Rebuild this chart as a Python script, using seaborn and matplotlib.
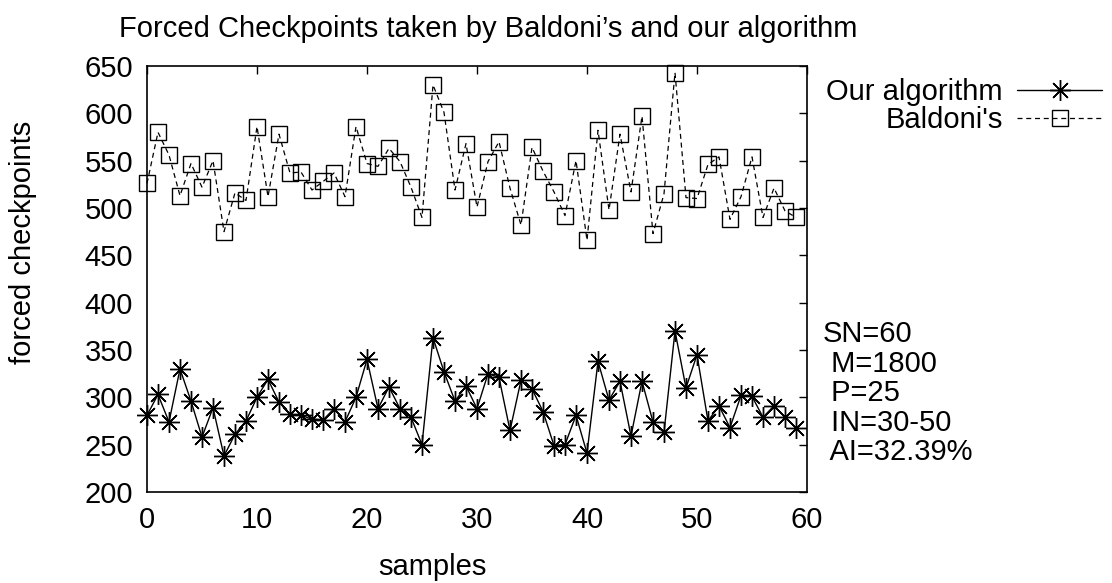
import numpy as np
import pandas as pd
import matplotlib
matplotlib.use("Agg")
import matplotlib.pyplot as plt
import seaborn as sns

samples = list(range(60))
our_algorithm = [281, 303, 274, 330, 296, 258, 289, 238, 261, 275,
                 300, 319, 295, 282, 281, 277, 276, 288, 274, 300,
                 340, 288, 311, 288, 279, 250, 363, 327, 296, 312,
                 288, 325, 321, 265, 318, 309, 285, 249, 250, 281,
                 241, 338, 297, 317, 259, 317, 274, 263, 370, 310,
                 345, 275, 291, 268, 302, 301, 279, 291, 279, 268]
baldoni = [526, 580, 556, 513, 547, 522, 550, 475, 516, 508,
           586, 512, 578, 537, 538, 519, 528, 537, 512, 586,
           547, 544, 563, 549, 522, 490, 630, 601, 519, 568,
           501, 549, 570, 521, 482, 564, 539, 517, 492, 550,
           466, 582, 498, 578, 517, 597, 473, 515, 643, 511,
           510, 546, 554, 488, 512, 554, 490, 521, 497, 490]
xticks = [0, 10, 20, 30, 40, 50, 60]
yticks = [200, 250, 300, 350, 400, 450, 500, 550, 600, 650]
params_text = "SN=60\n M=1800\n P=25\n IN=30-50\n AI=32.39%"

df_our = pd.DataFrame({"samples": samples, "value": our_algorithm})
df_bal = pd.DataFrame({"samples": samples, "value": baldoni})

sns.set_theme(style="white")
plt.rcParams['font.family'] = ['Liberation Sans', 'DejaVu Sans']
plt.rcParams['text.color'] = 'black'
plt.rcParams['axes.labelcolor'] = 'black'
plt.rcParams['xtick.color'] = 'black'
plt.rcParams['ytick.color'] = 'black'
FS = 21
plt.rcParams['font.size'] = FS

W, H = 1112, 583
fig = plt.figure(figsize=(W/100, H/100), dpi=100)
ax = fig.add_axes([147/W, 1-492/H, (807-147)/W, (492-66)/H])

ast = (8, 2, 0)
sns.lineplot(data=df_our, x="samples", y="value", ax=ax, color="black",
             linewidth=1.0, marker=ast, markersize=15, markeredgewidth=1.0,
             markeredgecolor="black", label="Our algorithm", clip_on=False)
sns.lineplot(data=df_bal, x="samples", y="value", ax=ax, color="black",
             linewidth=0.9, linestyle=(0, (4, 3)), marker="s", markersize=11,
             markerfacecolor="none", markeredgecolor="black", markeredgewidth=1.0,
             label="Baldoni's", clip_on=False)

ax.set_xlim(0, 60)
ax.set_ylim(200, 650)
ax.set_xticks(xticks)
ax.set_yticks(yticks)
ax.tick_params(direction="in", length=6, width=1, top=True, right=True,
               labelsize=FS, colors="black")
ax.tick_params(axis="x", pad=10)
ax.tick_params(axis="y", pad=10)
for s in ax.spines.values():
    s.set_color("black")
    s.set_linewidth(1.2)
ax.set_xlabel("samples", fontsize=FS)
ax.set_ylabel("forced checkpoints", fontsize=FS)
ax.xaxis.set_label_coords((432-147)/660, (492-567)/426)
ax.yaxis.set_label_coords((23-147)/660, (492-242)/426)
ax.xaxis.label.set_va("center")
ax.yaxis.label.set_va("center")

fig.text(488/W, 1-29/H, "Forced Checkpoints taken by Baldoni\u2019s and our algorithm",
         ha="center", va="center", fontsize=FS)

leg = ax.legend(loc="upper right", bbox_to_anchor=(1102/W, 1-78/H),
                bbox_transform=fig.transFigure, frameon=False,
                markerfirst=False, handlelength=2.9, alignment="right",
                fontsize=FS, labelspacing=0.0, handletextpad=0.5,
                borderaxespad=0, borderpad=0)

fig.text(823/W, 1-320/H, params_text, ha="left", va="top", fontsize=FS,
         linespacing=1.07)

fig.savefig("out.png", dpi=100)
